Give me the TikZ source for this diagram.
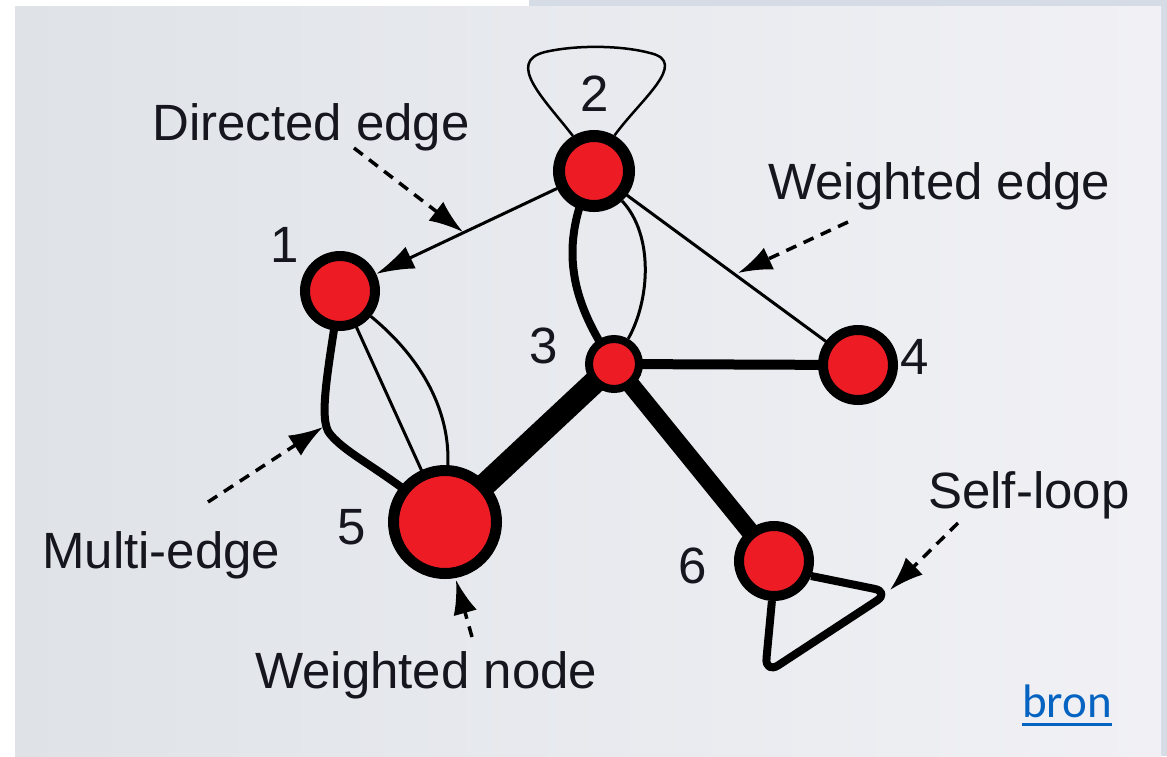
\documentclass[tikz,border=0pt]{standalone}
\usepackage{fontspec}
\setmainfont{Liberation Sans}
\newfontfamily\calibfont{Carlito}
\usetikzlibrary{arrows.meta}
\definecolor{nodered}{RGB}{237,28,36}
\definecolor{ink}{RGB}{22,22,30}
\definecolor{framebl}{RGB}{213,220,229}
\definecolor{bgA}{RGB}{223,227,232}
\definecolor{bgB}{RGB}{241,241,245}
\definecolor{linkblue}{RGB}{5,99,193}
\pgfdeclarelayer{back}
\pgfdeclarelayer{bg}
\pgfsetlayers{back,bg,main}
\begin{document}
\begin{tikzpicture}[x=1pt,y=-1pt,
  vert/.style={circle, draw=black, fill=nodered, inner sep=0pt},
  lbl/.style={inner sep=0pt, text=ink, font=\fontsize{51}{60}\selectfont},
  ann/.style={line width=3.5pt, dash pattern=on 11pt off 8pt, -{Latex[length=34pt,width=24pt]}},
  edgethin/.style={line width=3pt},
]
\useasboundingbox (0,0) rectangle (1167,756);
% background
\begin{pgfonlayer}{back}
\fill[white] (0,0) rectangle (1167,756);
\fill[framebl] (529,0) rectangle (1167,6);
\fill[framebl] (1161,0) rectangle (1167,756);
\shade[left color=bgA, right color=bgB] (15,6) rectangle (1161,756);
\end{pgfonlayer}

% nodes
\node[vert, minimum size=70pt, line width=10pt] (n1) at (340,291) {};
\node[vert, minimum size=70pt, line width=12pt] (n2) at (594,171) {};
\node[vert, minimum size=50pt, line width=8pt] (n3) at (614,364) {};
\node[vert, minimum size=70pt, line width=10pt] (n4) at (858,365) {};
\node[vert, minimum size=103pt, line width=11pt] (n5) at (445,522) {};
\node[vert, minimum size=70pt, line width=10pt] (n6) at (774,561) {};

% edges
\begin{pgfonlayer}{bg}
\draw[edgethin, -{Latex[length=38pt,width=24pt]}] (n2) -- (n1);
\draw[line width=8pt] (n2.center) .. controls (560,240) and (566,295) .. (n3.center);
\draw[edgethin] (n2) .. controls (654,235) and (650,300) .. (n3);
\draw[edgethin] (n2.center) -- (n4.center);
\draw[line width=10pt] (n3.center) -- (n4.center);
\draw[line width=23pt] (n3.center) -- (n5.center);
\draw[line width=18pt] (n3.center) -- (n6.center);
\draw[line width=8pt, line join=round] (n1.center) .. controls (328,370) and (318,420) .. (330,434)
   .. controls (348,456) and (385,470) .. (n5.center);
\draw[edgethin] (n1.center) -- (n5.center);
\draw[edgethin] (n1) .. controls (430,365) and (450,420) .. (n5);
% self-loops
\draw[line width=2.5pt] (n2.121) .. controls (545,100) and (505,62) .. (545,52)
   .. controls (575,45) and (620,45) .. (650,53) .. controls (690,62) and (640,100) .. (n2.60);
\draw[line width=8pt, rounded corners=16pt, line join=round] (n6.-22) -- (890,592) -- (765,674) -- (n6.-93);
\end{pgfonlayer}

% labels
\node[lbl] (l1) at (285,245) {1};
\node[lbl] (l2) at (595,94) {2};
\node[lbl] (l3) at (544,346) {3};
\node[lbl] (l4) at (915,357) {4};
\node[lbl] (l5) at (352,527) {5};
\node[lbl] (l6) at (693,566) {6};

\node[lbl, anchor=base west] (tDir) at (152,140) {Directed edge};
\node[lbl, anchor=base west] (tWe) at (768,199) {Weighted edge};
\node[lbl, anchor=base west] (tMu) at (42,568) {Multi-edge};
\node[lbl, anchor=base west] (tWn) at (255,688) {Weighted node};
\node[lbl, anchor=base west] (tSl) at (928,508) {Self-loop};

\node[inner sep=0pt, anchor=base west, text=linkblue, font=\calibfont\fontsize{47}{56}\selectfont] (bron) at (1022,717) {bron};
\draw[linkblue, line width=3pt] ([yshift=-7pt]bron.base west) -- ([yshift=-7pt]bron.base east);

% annotation arrows
\coordinate (dA) at (354,148); \coordinate (dB) at (463,232);
\draw[ann] (dA) -- (dB);
\coordinate (wA) at (848,222); \coordinate (wB) at (738,273);
\draw[ann] (wA) -- (wB);
\coordinate (mA) at (208,502); \coordinate (mB) at (323,427);
\draw[ann] (mA) -- (mB);
\coordinate (nA) at (472,637); \coordinate (nB) at (456,580);
\draw[ann] (nA) -- (nB);
\coordinate (sA) at (958,523); \coordinate (sB) at (890,590);
\draw[ann] (sA) -- (sB);
\end{tikzpicture}
\end{document}
